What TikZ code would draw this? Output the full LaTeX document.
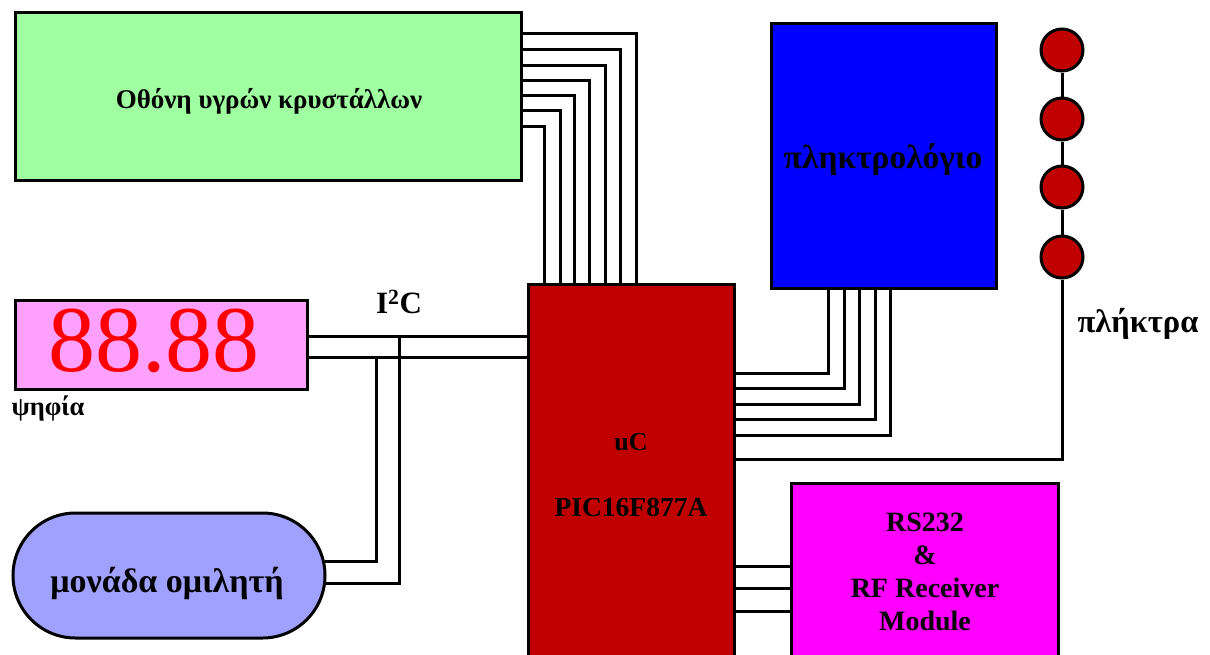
\documentclass[tikz,border=0pt]{standalone}
\usepackage{fontspec}
\setmainfont{Liberation Serif}
\usetikzlibrary{shapes.misc}
\pgfdeclarelayer{back}
\pgfdeclarelayer{bg}
\pgfsetlayers{back,bg,main}
\definecolor{lcdg}{RGB}{160,255,160}
\definecolor{ucred}{RGB}{192,0,0}
\definecolor{kbblue}{RGB}{0,0,255}
\definecolor{digpink}{RGB}{255,160,255}
\definecolor{spkblue}{RGB}{160,160,255}
\definecolor{rfmag}{RGB}{255,0,255}
\definecolor{digred}{RGB}{255,0,0}
\begin{document}
\begin{tikzpicture}[x=1pt,y=-1pt,
  box/.style={draw=black,line width=3pt,inner sep=0pt},
  wire/.style={draw=black,line width=3pt},
  btn/.style={circle,draw=black,line width=3pt,fill=ucred,minimum size=42pt,inner sep=0pt},
  lbl/.style={inner sep=0pt,font=\bfseries}]
\clip (0,0) rectangle (1210,654);
\begin{pgfonlayer}{back}
\fill[white] (0,0) rectangle (1210,654);
\end{pgfonlayer}
% blocks
\node[box,fill=lcdg,minimum width=506pt,minimum height=168pt] (lcd) at (268,96) {};
\node[box,fill=ucred,minimum width=206pt,minimum height=436pt] (uc) at (631,502) {};
\node[box,fill=kbblue,minimum width=225pt,minimum height=265pt] (kb) at (883.5,155.5) {};
\node[box,fill=digpink,minimum width=292pt,minimum height=89pt] (dig) at (161,344.5) {};
\node[box,rounded rectangle,fill=spkblue,minimum width=312pt,minimum height=125pt] (spk) at (169,575.5) {};
\node[box,fill=rfmag,minimum width=267pt,minimum height=234pt] (rf) at (924.5,600) {};
\node[btn] (b1) at (1062,50) {};
\node[btn] (b2) at (1062,119) {};
\node[btn] (b3) at (1062,187) {};
\node[btn] (b4) at (1062,257) {};
% labels
\node[lbl,font=\bfseries\fontsize{27}{31}\selectfont] (lcdt) at (269,101) {Οθόνη υγρών κρυστάλλων};
\node[lbl,font=\bfseries\fontsize{33.5}{38}\selectfont] (kbt) at (883,160) {πληκτρολόγιο};
\node[lbl,font=\fontsize{94}{94}\selectfont,text=digred] (digt) at (154,341) {88.88};
\node[lbl,font=\bfseries\fontsize{26.5}{30}\selectfont] (digl) at (48,408) {ψηφία};
\node[lbl,font=\bfseries\fontsize{31}{35}\selectfont] (i2c) at (399,302) {I\textsuperscript{2}C};
\node[lbl,font=\bfseries\fontsize{26}{30}\selectfont] (uct) at (631,442) {uC};
\node[lbl,font=\bfseries\fontsize{27.5}{31}\selectfont] (pic) at (631,507) {PIC16F877A};
\node[lbl,font=\bfseries\fontsize{34}{38}\selectfont] (spkt) at (167,583) {μονάδα ομιλητή};
\node[lbl,font=\bfseries\fontsize{32.5}{36}\selectfont] (keyl) at (1138,324) {πλήκτρα};
\node[lbl,font=\bfseries\fontsize{28}{33}\selectfont,align=center] (rft) at (925,572) {RS232\\\&\\RF Receiver\\Module};
% wires
\coordinate (t1) at (376,359);
\coordinate (t2) at (399,338);
\begin{pgfonlayer}{bg}
\foreach \dy/\dx in {23/110,39/94,55/79,70/63,85/48,100/34,116/18}
  \draw[wire] ([yshift=-\dy pt]lcd.north east) -| ([xshift=\dx pt]uc.north west);
\foreach \dx/\dy in {59/91,75/106,90/122,106/137,121/153}
  \draw[wire] ([xshift=\dx pt]kb.south west) |- ([yshift=-\dy pt]uc.north east);
\draw[wire] ([yshift=-38pt]dig.north east) -- ([yshift=-54pt]uc.north west);
\draw[wire] ([yshift=-59pt]dig.north east) -- ([yshift=-75pt]uc.north west);
\draw[wire] (t2) |- ([xshift=-2pt,yshift=-7.5pt]spk.east);
\draw[wire] (t1) |- ([xshift=-2pt,yshift=14.5pt]spk.east);
\draw[wire] (b1) -- (b2) -- (b3) -- (b4);
\draw[wire] (b4) |- ([yshift=-177pt]uc.north east);
\foreach \a/\b in {284/85,306/107,329/130}
  \draw[wire] ([yshift=-\a pt]uc.north east) -- ([yshift=-\b pt]rf.north west);
\end{pgfonlayer}
\end{tikzpicture}
\end{document}
